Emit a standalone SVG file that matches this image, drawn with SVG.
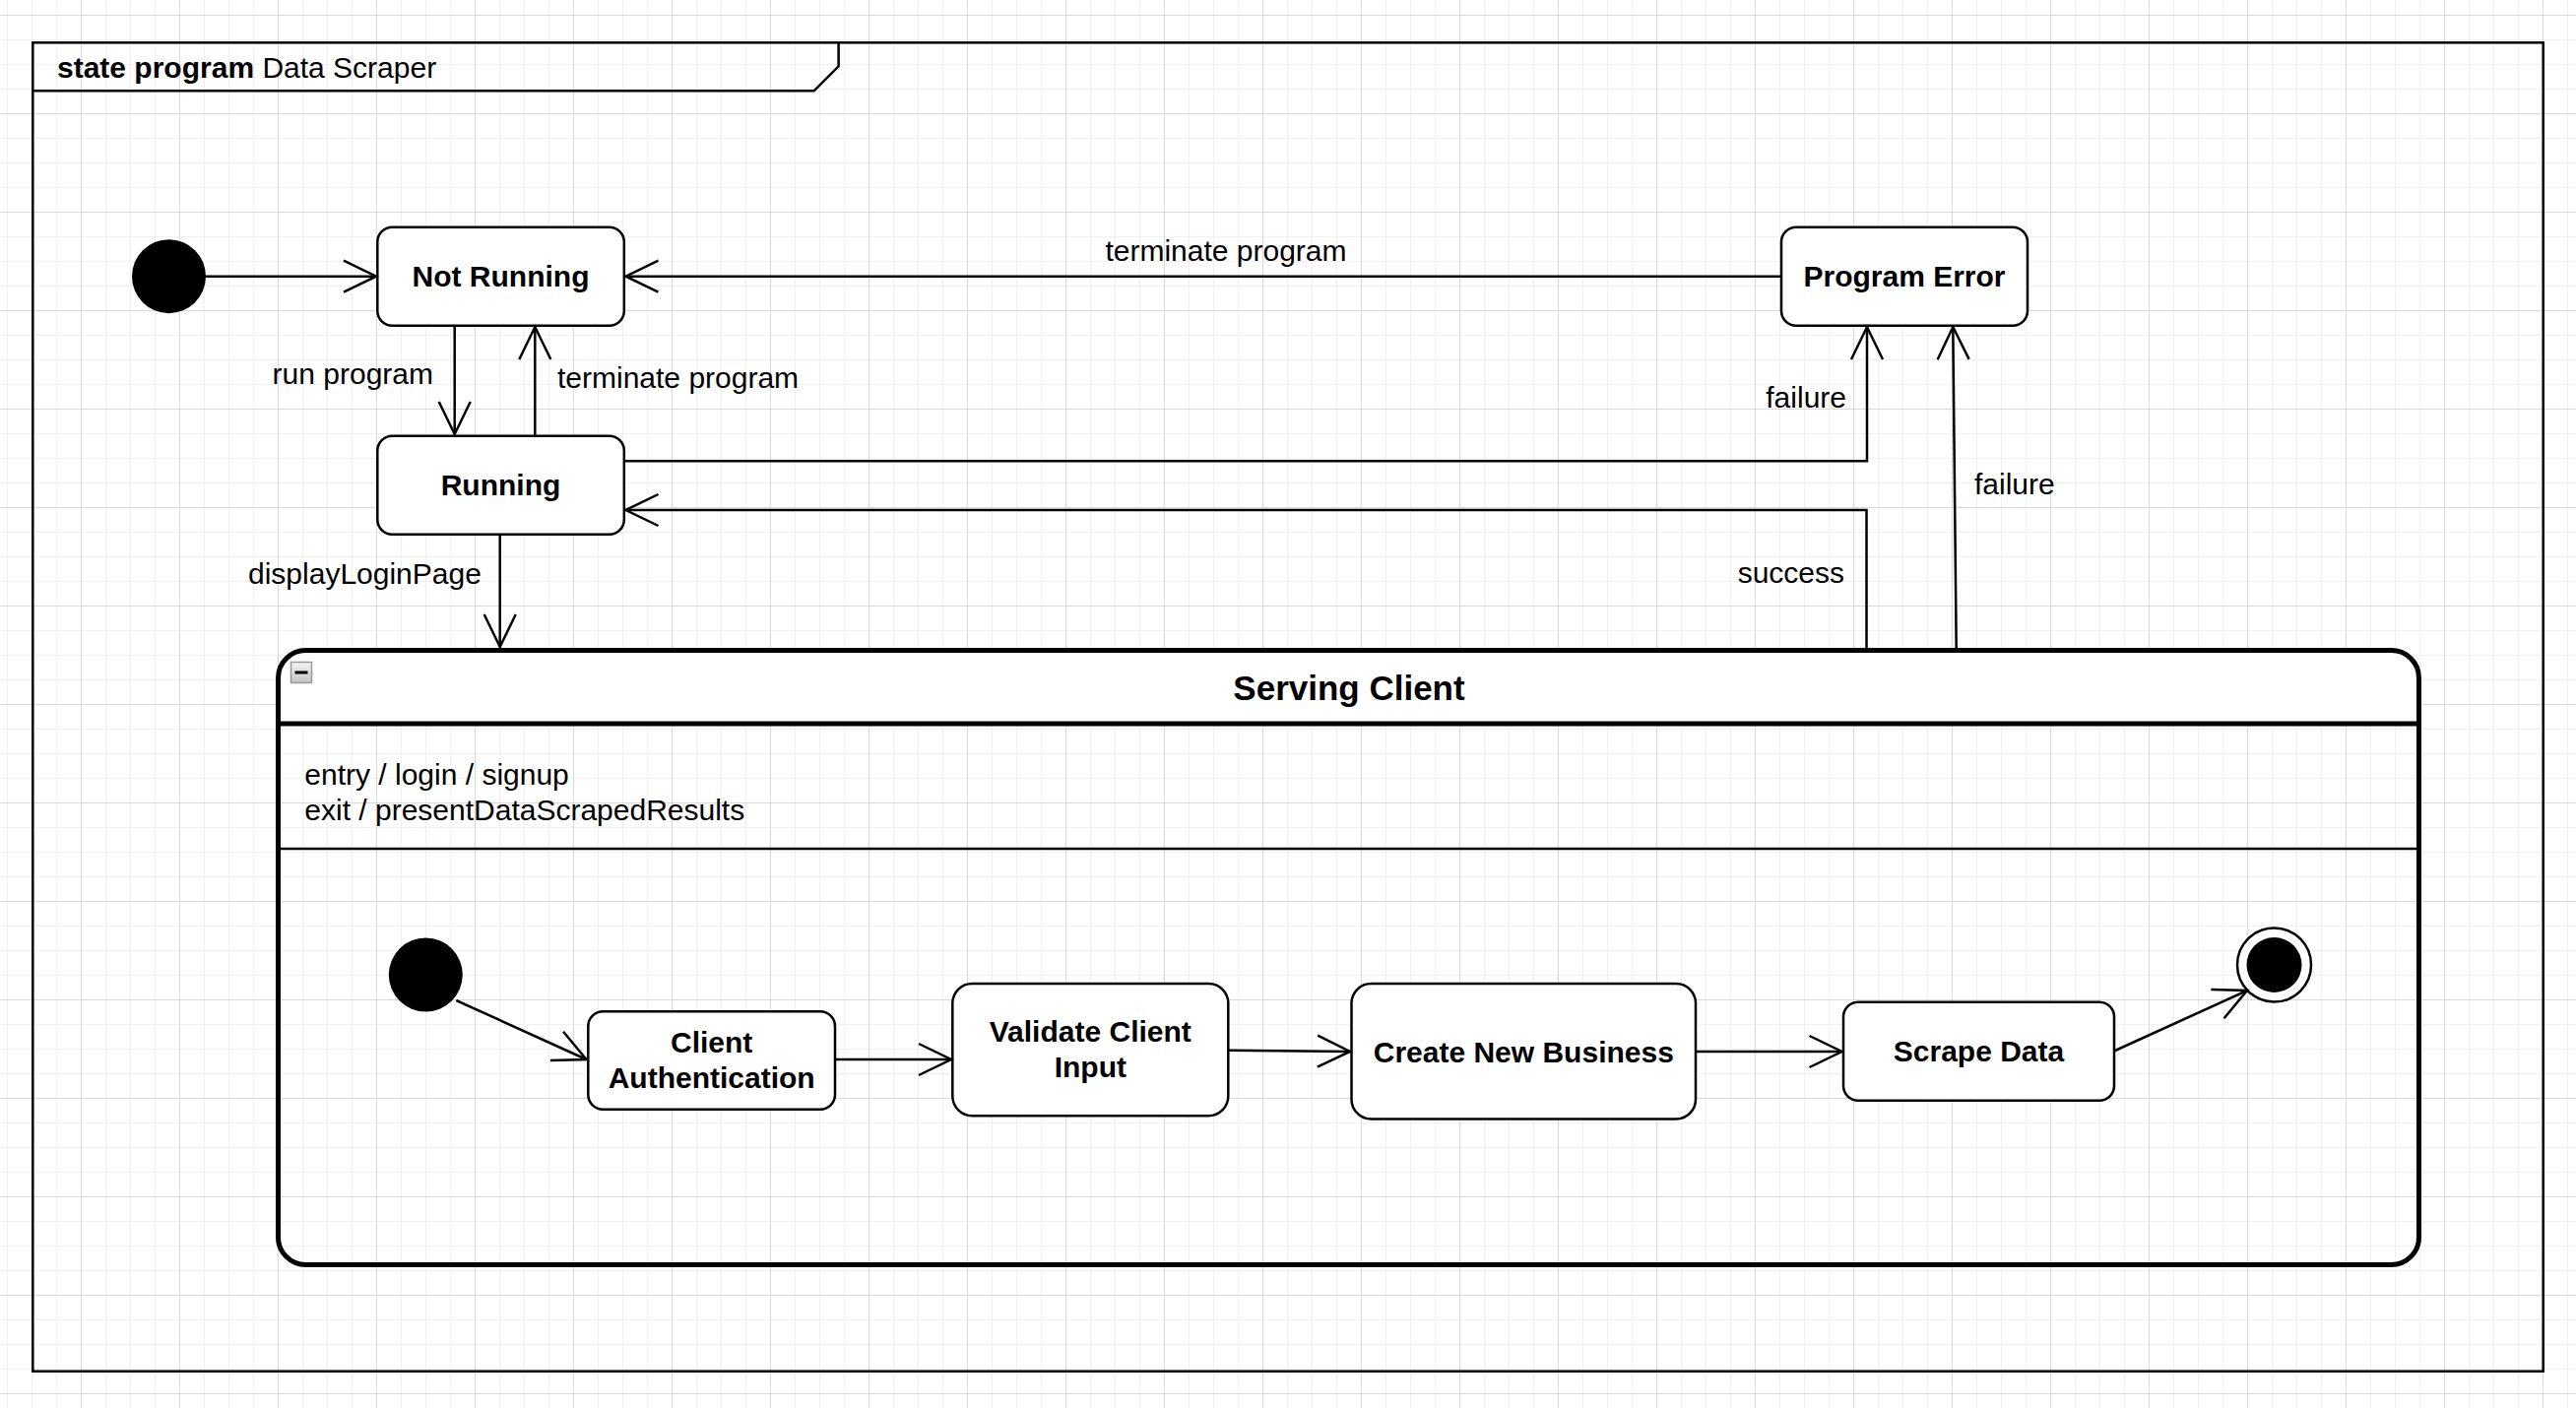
<svg xmlns="http://www.w3.org/2000/svg" width="2616" height="1430" viewBox="0 0 2616 1430">
<defs>
  <pattern id="gMinor" x="7" y="15" width="25" height="25" patternUnits="userSpaceOnUse">
    <rect width="25" height="1" fill="#f0f0f0"/><rect width="1" height="25" fill="#f0f0f0"/>
  </pattern>
  <pattern id="gMajor" x="82" y="15" width="100" height="100" patternUnits="userSpaceOnUse">
    <rect width="100" height="1" fill="#d9d9d9"/><rect width="1" height="100" fill="#d9d9d9"/>
  </pattern>
  <marker id="open" markerUnits="userSpaceOnUse" markerWidth="40" markerHeight="40" viewBox="-36 -20 40 40" refX="0" refY="0" orient="auto">
    <path d="M -33 -16 L 0 0 L -33 16" fill="none" stroke="#000" stroke-width="2.5"/>
  </marker>
  <linearGradient id="btn" x1="0" y1="0" x2="0" y2="1">
    <stop offset="0" stop-color="#f4f4f4"/><stop offset="1" stop-color="#c4c4c4"/>
  </linearGradient>
  <style>
    .node { fill:#fff; stroke:#000; stroke-width:2.5; }
    .edge { fill:none; stroke:#000; stroke-width:2.5; marker-end:url(#open); }
    .t { font-family:"Liberation Sans", Arial, Helvetica, sans-serif; font-size:30px; fill:#000; }
    .b { font-weight:bold; }
    .c { text-anchor:middle; }
    .e { text-anchor:end; }
  </style>
</defs>

<rect width="2616" height="1430" fill="#fff"/>
<rect width="2616" height="1430" fill="url(#gMinor)"/>
<rect width="2616" height="1430" fill="url(#gMajor)"/>

<g id="frame">
  <rect x="33.3" y="43.3" width="2549.4" height="1349.4" fill="none" stroke="#000" stroke-width="2.5"/>
  <path d="M 33.3 92.3 H 826.6 L 851.6 67.3 V 43.3" fill="none" stroke="#000" stroke-width="2.5"/>
  <text class="t" x="58" y="79"><tspan class="b">state program</tspan> Data Scraper</text>
</g>

<g id="initial">
  <circle cx="171.5" cy="280.7" r="37.5" fill="#000"/>
</g>

<g id="not-running">
  <rect class="node" x="383.3" y="230.7" width="250.5" height="100" rx="15"/>
  <text class="t b c" x="508.5" y="291">Not Running</text>
</g>

<g id="running">
  <rect class="node" x="383.3" y="442.7" width="250.5" height="100" rx="15"/>
  <text class="t b c" x="508.5" y="503">Running</text>
</g>

<g id="program-error">
  <rect class="node" x="1809" y="230.7" width="250" height="100" rx="15"/>
  <text class="t b c" x="1934" y="291">Program Error</text>
</g>

<g id="serving-client">
  <path d="M 282.5 735 V 688.5 Q 282.5 660.5 310.5 660.5 H 2428.5 Q 2456.5 660.5 2456.5 688.5 V 735 Z" fill="#fff"/>
  <rect x="282.5" y="660.5" width="2174" height="624" rx="28" fill="none" stroke="#000" stroke-width="5"/>
  <line x1="282.5" y1="735" x2="2456.5" y2="735" stroke="#000" stroke-width="5"/>
  <line x1="282.5" y1="862" x2="2456.5" y2="862" stroke="#000" stroke-width="2.5"/>
  <rect x="295.5" y="672.5" width="21" height="21" fill="url(#btn)" stroke="#9a9a9a" stroke-width="1.5"/>
  <line x1="299.5" y1="683" x2="312.5" y2="683" stroke="#000" stroke-width="3"/>
  <text class="t b c" x="1370" y="711" style="font-size:35px">Serving Client</text>
  <text class="t" x="309.3" y="796.7">entry / login / signup</text>
  <text class="t" x="309.3" y="832.7">exit / presentDataScrapedResults</text>
</g>

<g id="inner-initial">
  <circle cx="432.3" cy="990" r="37.5" fill="#000"/>
</g>

<g id="client-authentication">
  <rect class="node" x="597.3" y="1027.3" width="250.7" height="99.4" rx="15"/>
  <text class="t b c" x="722.7" y="1068.5">Client</text>
  <text class="t b c" x="722.7" y="1104.5">Authentication</text>
</g>

<g id="validate-client-input">
  <rect class="node" x="967.3" y="999" width="280" height="134.3" rx="20"/>
  <text class="t b c" x="1107.3" y="1058">Validate Client</text>
  <text class="t b c" x="1107.3" y="1094">Input</text>
</g>

<g id="create-new-business">
  <rect class="node" x="1372.5" y="999" width="349.5" height="137.5" rx="20"/>
  <text class="t b c" x="1547.3" y="1078.5">Create New Business</text>
</g>

<g id="scrape-data">
  <rect class="node" x="1872" y="1017.7" width="275" height="100" rx="15"/>
  <text class="t b c" x="2009.5" y="1078">Scrape Data</text>
</g>

<g id="final">
  <circle cx="2309.5" cy="980" r="37.5" fill="#fff" stroke="#000" stroke-width="2.5"/>
  <circle cx="2309.5" cy="980" r="28" fill="#000"/>
</g>

<g id="connectors">
  <path class="edge" d="M 209 280.7 H 382"/>
  <path class="edge" d="M 461.7 330.7 V 441"/>
  <path class="edge" d="M 543.3 442.7 V 332"/>
  <path class="edge" d="M 1809 280.7 H 635.5"/>
  <path class="edge" d="M 634 468.3 H 1896 V 332"/>
  <path class="edge" d="M 1895.5 658 V 518 H 635.5"/>
  <path class="edge" d="M 1986.7 658 L 1983.3 332"/>
  <path class="edge" d="M 507.7 542.7 V 657"/>
  <path class="edge" d="M 463.3 1016 L 595.5 1076"/>
  <path class="edge" d="M 848 1076 L 966 1076"/>
  <path class="edge" d="M 1247.3 1066.7 L 1371 1068"/>
  <path class="edge" d="M 1722 1068 L 1870.5 1068"/>
  <path class="edge" d="M 2148 1067 L 2282 1006"/>
  <text class="t e" x="440" y="390">run program</text>
  <text class="t" x="566" y="394">terminate program</text>
  <text class="t c" x="1245" y="265">terminate program</text>
  <text class="t e" x="1875" y="414">failure</text>
  <text class="t" x="2005" y="502">failure</text>
  <text class="t e" x="1873" y="592">success</text>
  <text class="t" x="252" y="593">displayLoginPage</text>
</g>
</svg>
